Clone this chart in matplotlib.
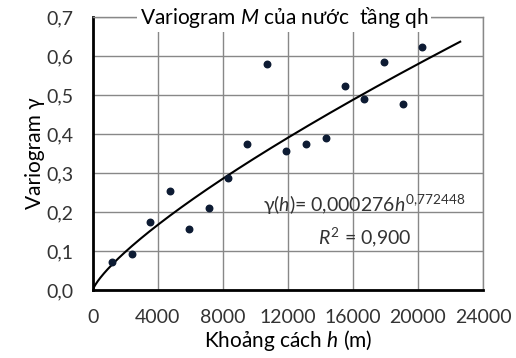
import numpy as np
import matplotlib
matplotlib.use("Agg")
import matplotlib.pyplot as plt
from matplotlib.ticker import FuncFormatter

plt.rcParams['font.family'] = ['Lato', 'DejaVu Sans']
plt.rcParams['mathtext.fontset'] = 'custom'
plt.rcParams['mathtext.it'] = 'Lato:italic'
plt.rcParams['mathtext.rm'] = 'Lato'

# khoảng cách h (m) và variogram thực nghiệm
h = [1170, 2400, 3510, 4740, 5910, 7140, 8310, 9480, 10710, 11880,
     13110, 14340, 15510, 16680, 17900, 19080, 20250]
gamma = [0.072, 0.092, 0.174, 0.254, 0.156, 0.210, 0.287, 0.374, 0.580, 0.356,
         0.375, 0.390, 0.523, 0.490, 0.585, 0.477, 0.623]
coef_a = 0.000276
coef_b = 0.772448
h_fit_max = 22600
xticks = [0, 4000, 8000, 12000, 16000, 20000, 24000]
yticks = [0.0, 0.1, 0.2, 0.3, 0.4, 0.5, 0.6, 0.7]

fig = plt.figure(figsize=(5.16, 3.58), dpi=100)
ax = fig.add_axes([0.180, 0.190, 0.756, 0.762])

hh = np.linspace(0, h_fit_max, 300)
ax.plot(hh, coef_a * hh ** coef_b, color='black', lw=1.5, zorder=3)
ax.scatter(h, gamma, s=22, color='#0d1b33', zorder=4)

ax.set_xlim(0, 24000)
ax.set_ylim(0, 0.7)
ax.set_xticks(xticks)
ax.set_yticks(yticks)
ax.xaxis.set_major_formatter(FuncFormatter(lambda v, p: f"{v:.0f}"))
ax.yaxis.set_major_formatter(FuncFormatter(lambda v, p: f"{v:.1f}".replace('.', ',')))
ax.tick_params(length=0, labelsize=14, colors='#333333')
ax.tick_params(axis='x', pad=14)
ax.tick_params(axis='y', pad=14)
ax.grid(True, color='#888888', lw=1)
ax.set_axisbelow(True)

for s in ['left', 'bottom']:
    ax.spines[s].set_linewidth(2)
    ax.spines[s].set_color('black')
for s in ['top', 'right']:
    ax.spines[s].set_linewidth(1)
    ax.spines[s].set_color('#888888')

ax.set_xlabel(r"Khoảng cách $h$ (m)", fontsize=15, labelpad=1)
ax.set_ylabel("Variogram γ", fontsize=15, labelpad=1)

ax.text(0.49, 1.0, r"Variogram $M$ của nước  tầng qh", transform=ax.transAxes,
        ha='center', va='center', fontsize=15,
        bbox=dict(facecolor='white', edgecolor='none', pad=2), zorder=5)

ax.text(16700, 0.218, r"γ($h$)= 0,000276$h^{0{,}772448}$", ha='center', va='center',
        fontsize=14, color='#333333', zorder=5)
ax.text(16700, 0.136, r"$R^2$ = 0,900", ha='center', va='center',
        fontsize=14, color='#333333', zorder=5)

fig.savefig("out.png", dpi=100)
